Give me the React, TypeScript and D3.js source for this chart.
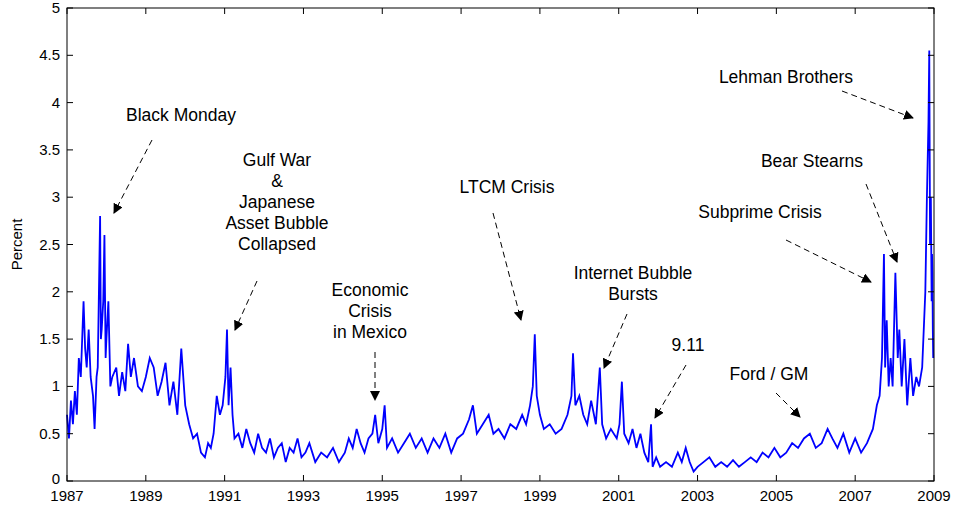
import React from "react";
import * as d3 from "d3";

const years = [1987,1987.05,1987.1,1987.15,1987.2,1987.25,1987.3,1987.35,1987.42,1987.46,1987.5,1987.55,1987.6,1987.66,1987.7,1987.75,1987.78,1987.84,1987.86,1987.88,1987.92,1987.95,1987.98,1988.0,1988.05,1988.1,1988.15,1988.25,1988.32,1988.4,1988.48,1988.55,1988.62,1988.7,1988.8,1988.9,1989.0,1989.1,1989.2,1989.3,1989.4,1989.5,1989.6,1989.7,1989.8,1989.9,1990.0,1990.1,1990.2,1990.3,1990.4,1990.5,1990.58,1990.65,1990.72,1990.8,1990.88,1990.95,1991.02,1991.06,1991.1,1991.15,1991.2,1991.25,1991.35,1991.45,1991.55,1991.65,1991.75,1991.85,1991.95,1992.05,1992.15,1992.25,1992.35,1992.45,1992.55,1992.65,1992.75,1992.85,1992.95,1993.05,1993.15,1993.3,1993.45,1993.6,1993.75,1993.9,1994.05,1994.15,1994.25,1994.35,1994.45,1994.55,1994.65,1994.75,1994.82,1994.9,1995.0,1995.06,1995.12,1995.25,1995.4,1995.55,1995.7,1995.85,1996.0,1996.15,1996.3,1996.45,1996.6,1996.75,1996.9,1997.05,1997.2,1997.3,1997.4,1997.55,1997.7,1997.82,1997.95,1998.1,1998.25,1998.4,1998.55,1998.65,1998.75,1998.82,1998.87,1998.92,1999.0,1999.1,1999.25,1999.4,1999.55,1999.7,1999.8,1999.84,1999.9,2000.0,2000.1,2000.2,2000.3,2000.42,2000.52,2000.58,2000.68,2000.8,2000.95,2001.02,2001.08,2001.14,2001.25,2001.35,2001.45,2001.55,2001.65,2001.75,2001.82,2001.86,2001.95,2002.05,2002.2,2002.35,2002.5,2002.6,2002.7,2002.8,2002.9,2003.0,2003.15,2003.3,2003.45,2003.6,2003.75,2003.9,2004.05,2004.2,2004.35,2004.5,2004.65,2004.8,2004.95,2005.1,2005.25,2005.4,2005.55,2005.7,2005.85,2006.0,2006.15,2006.3,2006.42,2006.55,2006.7,2006.85,2007.0,2007.15,2007.3,2007.45,2007.55,2007.62,2007.68,2007.73,2007.76,2007.8,2007.85,2007.9,2007.95,2008.02,2008.08,2008.12,2008.18,2008.25,2008.32,2008.4,2008.47,2008.55,2008.62,2008.7,2008.78,2008.82,2008.86,2008.88,2008.9,2008.92,2008.94,2008.95,2008.96,2008.97,2008.98,2008.99,2009.0];
const percent = [0.7,0.45,0.85,0.6,0.95,0.7,1.3,1.1,1.9,1.4,1.2,1.6,1.1,0.9,0.55,1.1,1.2,2.8,1.5,1.6,1.9,2.6,1.3,1.5,1.9,1.0,1.1,1.2,0.9,1.15,0.95,1.45,1.1,1.3,1.0,0.95,1.1,1.3,1.2,0.9,1.05,1.25,0.8,1.05,0.7,1.4,0.8,0.6,0.45,0.5,0.3,0.25,0.4,0.35,0.5,0.9,0.7,0.8,1.1,1.6,0.8,1.2,0.7,0.45,0.5,0.35,0.55,0.4,0.3,0.5,0.35,0.3,0.45,0.25,0.35,0.4,0.2,0.35,0.3,0.45,0.25,0.3,0.4,0.2,0.3,0.25,0.35,0.2,0.3,0.45,0.35,0.55,0.4,0.3,0.45,0.5,0.7,0.4,0.55,0.8,0.35,0.45,0.3,0.4,0.5,0.35,0.45,0.3,0.45,0.35,0.5,0.3,0.45,0.5,0.65,0.8,0.5,0.6,0.7,0.5,0.55,0.45,0.6,0.55,0.7,0.6,0.8,1.0,1.55,0.9,0.7,0.55,0.6,0.5,0.55,0.7,0.9,1.35,0.8,0.9,0.7,0.6,0.85,0.6,1.2,0.6,0.45,0.55,0.45,0.6,1.05,0.5,0.4,0.55,0.35,0.5,0.3,0.2,0.6,0.15,0.25,0.15,0.2,0.15,0.3,0.2,0.35,0.2,0.1,0.15,0.2,0.25,0.15,0.2,0.15,0.22,0.15,0.2,0.25,0.2,0.3,0.25,0.35,0.25,0.3,0.4,0.35,0.45,0.5,0.35,0.4,0.55,0.45,0.35,0.5,0.3,0.45,0.3,0.4,0.55,0.8,0.9,1.3,2.4,1.2,1.7,1.0,1.3,1.0,2.2,1.3,1.6,1.0,1.5,0.8,1.3,0.9,1.1,1.0,1.2,2.0,3.0,3.8,4.55,2.5,3.0,1.9,2.4,2.2,1.6,1.3];

const xTicks = [1987,1989,1991,1993,1995,1997,1999,2001,2003,2005,2007,2009];
const yTicks = [0,0.5,1,1.5,2,2.5,3,3.5,4,4.5,5];

const notes = [
  { lines: ["Black Monday"], tx: 181, ty: 121, a: [152,140,114,213] },
  { lines: ["Gulf War","&","Japanese","Asset Bubble","Collapsed"], tx: 277, ty: 166, a: [257,281,235,330] },
  { lines: ["Economic","Crisis","in Mexico"], tx: 370, ty: 296, a: [375,352,375,400] },
  { lines: ["LTCM Crisis"], tx: 507, ty: 193, a: [493,213,521,320] },
  { lines: ["Internet Bubble","Bursts"], tx: 633, ty: 279, a: [627,314,604,368] },
  { lines: ["9.11"], tx: 688, ty: 351, a: [686,365,655,418] },
  { lines: ["Ford / GM"], tx: 769, ty: 380, a: [776,393,800,417] },
  { lines: ["Subprime Crisis"], tx: 760, ty: 218, a: [786,240,871,282] },
  { lines: ["Bear Stearns"], tx: 812, ty: 167, a: [866,184,897,262] },
  { lines: ["Lehman Brothers"], tx: 786, ty: 83, a: [842,91,913,118] },
];

export default function App() {
  const W = 963, H = 509, L = 67, R = 934, T = 8, B = 481;
  const x = d3.scaleLinear().domain([1987, 2009]).range([L, R]);
  const y = d3.scaleLinear().domain([0, 5]).range([B, T]);
  const line = d3.line<number>().x((_, i) => x(years[i])).y((d) => y(d));
  const font = "'Liberation Sans', Arial, sans-serif";
  return (
    <svg width={W} height={H} style={{ position: "absolute", left: 0, top: 0, background: "#fff" }} fontFamily={font}>
      <defs>
        <marker id="ah" viewBox="0 0 10 10" refX="9" refY="5" markerWidth="10" markerHeight="10" markerUnits="userSpaceOnUse" orient="auto">
          <path d="M0,0 L10,5 L0,10 z" fill="#000" />
        </marker>
      </defs>
      <path d={line(percent) || ""} fill="none" stroke="#0000ff" strokeWidth={1.8} />
      <rect x={L} y={T} width={R - L} height={B - T} fill="none" stroke="#000" strokeWidth={1} />
      {xTicks.map((t) => (
        <g key={t}>
          <line x1={x(t)} x2={x(t)} y1={B} y2={B - 6} stroke="#000" />
          <line x1={x(t)} x2={x(t)} y1={T} y2={T + 6} stroke="#000" />
          <text x={x(t)} y={B + 20} fontSize={15} textAnchor="middle">{t}</text>
        </g>
      ))}
      {yTicks.map((t) => (
        <g key={t}>
          <line x1={L} x2={L + 6} y1={y(t)} y2={y(t)} stroke="#000" />
          <line x1={R} x2={R - 6} y1={y(t)} y2={y(t)} stroke="#000" />
          <text x={L - 7} y={y(t) + (t === 0 ? 3 : 5)} fontSize={15} textAnchor="end">{t}</text>
        </g>
      ))}
      <text transform={`translate(22,${(T + B) / 2}) rotate(-90)`} fontSize={15} textAnchor="middle">Percent</text>
      {notes.map((n, i) => (
        <g key={i}>
          {n.lines.map((s, j) => (
            <text key={j} x={n.tx} y={n.ty + j * 21} fontSize={17.5} textAnchor="middle">{s}</text>
          ))}
          <line x1={n.a[0]} y1={n.a[1]} x2={n.a[2]} y2={n.a[3]} stroke="#000" strokeWidth={1} strokeDasharray="6,4" markerEnd="url(#ah)" />
        </g>
      ))}
    </svg>
  );
}
